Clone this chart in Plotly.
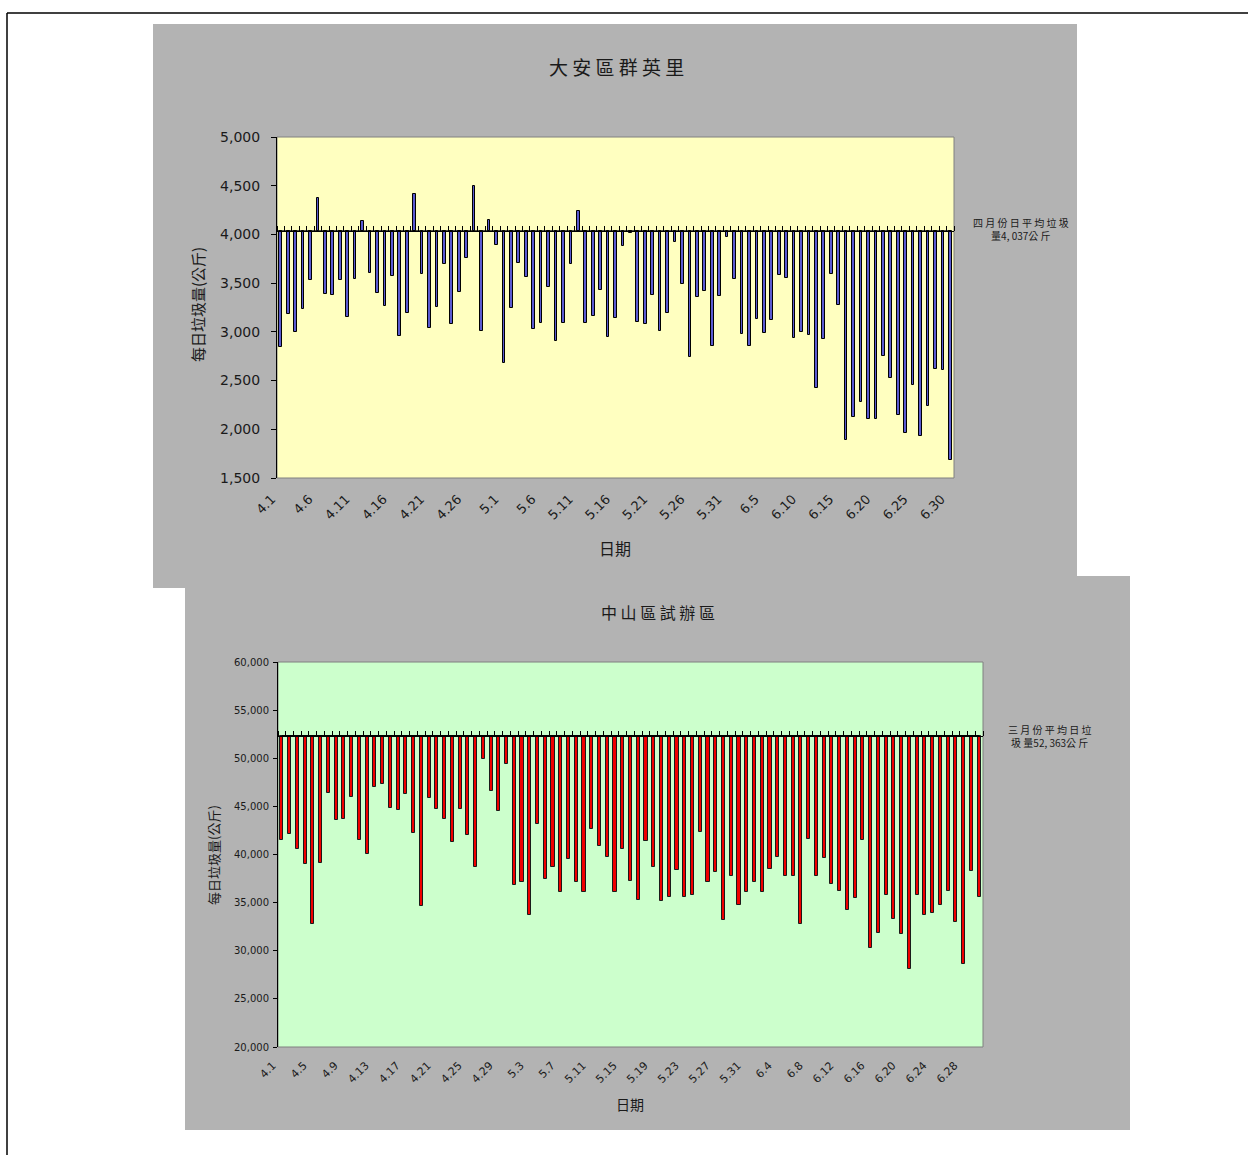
import plotly.graph_objects as go

W, H = 1248, 1155

# ---------------- data ----------------
month_lengths = [(4, 30), (5, 31), (6, 30)]
dates = [f"{m}.{d}" for m, n in month_lengths for d in range(1, n + 1)]

daan_avg = 4037
daan_values = [
    2842, 3182, 3000, 3236, 3532, 4372, 3390, 3378, 3532, 3154,
    3543, 4137, 3604, 3397, 3267, 3575, 2957, 3195, 4411, 3592,
    3040, 3255, 3697, 3080, 3410, 3760, 4495, 3008, 4145, 3892,
    2678, 3246, 3707, 3563, 3029, 3092, 3460, 2908, 3092, 3697,
    4238, 3092, 3162, 3433, 2949, 3142, 3882, 4016, 3101, 3082,
    3378, 3007, 3195, 3925, 3491, 2740, 3361, 3419, 2853, 3371,
    3976, 3543, 2976, 2853, 3134, 2990, 3120, 3582, 3551, 2935,
    3000, 2966, 2421, 2925, 3592, 3277, 1894, 2130, 2277, 2103,
    2103, 2750, 2524, 2144, 1966, 2452, 1928, 2236, 2616, 2606,
    1688,
]
daan_ticks = ["4.1", "4.6", "4.11", "4.16", "4.21", "4.26", "5.1", "5.6", "5.11",
              "5.16", "5.21", "5.26", "5.31", "6.5", "6.10", "6.15", "6.20", "6.25", "6.30"]

zs_avg = 52363
zs_values = [
    41493, 42118, 40556, 39028, 32743, 39097, 46354, 43576, 43681, 46007,
    41528, 40104, 47049, 47292, 44792, 44618, 46285, 42188, 34618, 45833,
    44688, 43681, 41300, 44757, 42049, 38750, 49970, 46597, 44549, 49375,
    36840, 37118, 33750, 43125, 37465, 38681, 36146, 39549, 37188, 36076,
    42639, 40833, 39722, 36146, 40521, 37257, 35313, 41424, 38681, 35139,
    35556, 38403, 35556, 35799, 42361, 37188, 38229, 33229, 37813, 34722,
    36076, 37188, 36146, 38507, 39722, 37743, 37813, 32743, 41632, 37743,
    39653, 36944, 36181, 34271, 35486, 41528, 30313, 31875, 35833, 33333,
    31701, 28056, 35764, 33750, 33924, 34722, 36250, 32986, 28646, 38264,
    35556,
]
zs_ticks = ["4.1", "4.5", "4.9", "4.13", "4.17", "4.21", "4.25", "4.29", "5.3", "5.7",
            "5.11", "5.15", "5.19", "5.23", "5.27", "5.31", "6.4", "6.8", "6.12",
            "6.16", "6.20", "6.24", "6.28"]

title_top = "大 安 區 群 英 里"
title_bot = "中 山 區 試 辦 區"
ytitle = "每日垃圾量(公斤)"
xtitle = "日期"
note_top = "四 月 份 日 平 均 垃 圾<br>量4, 037公 斤"
note_bot = "三 月 份 平 均 日 垃<br>圾 量52, 363公 斤"

# ---------------- layout helpers ----------------
def px(x):
    return x / W

def py(y):
    return 1 - y / H

top_dom_x = [px(277), px(954)]
top_dom_y = [py(478), py(137)]
bot_dom_x = [px(278), px(983)]
bot_dom_y = [py(1047), py(662)]

top_range = [1500, 5000]
bot_range = [20000, 60000]

def base_pos(dom, rng, v):
    return dom[0] + (v - rng[0]) / (rng[1] - rng[0]) * (dom[1] - dom[0])

n = len(dates)
idx = list(range(n))
boundaries = [i - 0.5 for i in range(n + 1)]

CJK = "Noto Sans CJK TC"
TXT = "#1a1a1a"

fig = go.Figure()
fig.add_trace(go.Bar(
    x=dates, y=[v - daan_avg for v in daan_values], base=daan_avg,
    width=0.36, xaxis="x", yaxis="y",
    marker=dict(color="#5a5ad0", line=dict(color="#000000", width=1)),
    customdata=daan_values, hovertemplate="%{x}: %{customdata}<extra></extra>",
))
# average reference line (on the baseline axis that carries the tick marks)
fig.add_trace(go.Scatter(
    x=idx, y=[daan_avg] * n, xaxis="x3", yaxis="y", mode="lines",
    line=dict(color="#000", width=1), hoverinfo="skip",
))
fig.add_trace(go.Bar(
    x=dates, y=[v - zs_avg for v in zs_values], base=zs_avg,
    width=0.4, xaxis="x2", yaxis="y2",
    marker=dict(color="#f00000", line=dict(color="#1a1a1a", width=1)),
    customdata=zs_values, hovertemplate="%{x}: %{customdata}<extra></extra>",
))
fig.add_trace(go.Scatter(
    x=idx, y=[zs_avg] * n, xaxis="x4", yaxis="y2", mode="lines",
    line=dict(color="#000", width=1), hoverinfo="skip",
))

common_x = dict(type="category", range=[-0.5, n - 0.5], tickmode="array",
                tickangle=-45, ticks="", showline=False, showgrid=False,
                zeroline=False, automargin=False)
common_y = dict(ticks="outside", ticklen=5, tickcolor="#000", showline=True,
                linecolor="#000", linewidth=1, showgrid=False, zeroline=False,
                tickformat=",d", automargin=False)
overlay = dict(type="linear", range=[-0.5, n - 0.5], anchor="free", side="top",
               tickmode="array", tickvals=boundaries, ticks="outside",
               tickcolor="#000", tickwidth=1, showticklabels=False, showline=True,
               linecolor="#000", linewidth=1, showgrid=False, zeroline=False,
               automargin=False)

fig.update_layout(
    template="none",
    width=W, height=H, margin=dict(l=0, r=0, t=0, b=0, pad=0),
    paper_bgcolor="white", plot_bgcolor="rgba(0,0,0,0)", showlegend=False,
    bargap=0, hovermode="closest",
    xaxis=dict(common_x, domain=top_dom_x, anchor="y", tickvals=daan_ticks,
               ticktext=daan_ticks, ticklabelshift=-9, ticklabelstandoff=10,
               tickfont=dict(family="DejaVu Sans", size=13, color=TXT)),
    yaxis=dict(common_y, domain=top_dom_y, anchor="x", range=top_range, dtick=500,
               ticklabelstandoff=8,
               tickfont=dict(family="DejaVu Sans", size=14, color=TXT)),
    xaxis2=dict(common_x, domain=bot_dom_x, anchor="y2", tickvals=zs_ticks,
                ticktext=zs_ticks, ticklabelshift=-9, ticklabelstandoff=9,
                tickfont=dict(family="DejaVu Sans", size=11, color=TXT)),
    yaxis2=dict(common_y, domain=bot_dom_y, anchor="x2", range=bot_range, dtick=5000,
                ticklen=4, ticklabelstandoff=2,
                tickfont=dict(family="DejaVu Sans", size=10, color=TXT)),
    xaxis3=dict(overlay, overlaying="x", ticklen=5,
                position=base_pos(top_dom_y, top_range, daan_avg)),
    xaxis4=dict(overlay, overlaying="x2", ticklen=5,
                position=base_pos(bot_dom_y, bot_range, zs_avg)),
)

shapes = [
    # page frame
    dict(type="line", xref="paper", yref="paper", x0=px(7), x1=px(7), y0=py(13), y1=0,
         line=dict(color="#000", width=1.5)),
    dict(type="line", xref="paper", yref="paper", x0=px(7), x1=1, y0=py(13), y1=py(13),
         line=dict(color="#000", width=1.5)),
    # grey chart panels
    dict(type="rect", xref="paper", yref="paper", x0=px(153), x1=px(1077), y0=py(588), y1=py(24),
         fillcolor="#b3b3b3", line=dict(width=0), layer="below"),
    dict(type="rect", xref="paper", yref="paper", x0=px(185), x1=px(1130), y0=py(1130), y1=py(576),
         fillcolor="#b3b3b3", line=dict(width=0), layer="below"),
    # plot area backgrounds
    dict(type="rect", xref="x domain", yref="y domain", x0=0, x1=1, y0=0, y1=1,
         fillcolor="#ffffc0", line=dict(color="#808080", width=1), layer="below"),
    dict(type="rect", xref="x2 domain", yref="y2 domain", x0=0, x1=1, y0=0, y1=1,
         fillcolor="#ccffcc", line=dict(color="#808080", width=1), layer="below"),
]
fig.update_layout(shapes=shapes)

def ann(text, x, y, size, angle=0, align="center"):
    return dict(text=text, x=px(x), y=py(y), xref="paper", yref="paper",
                showarrow=False, textangle=angle, align=align,
                xanchor="center", yanchor="middle",
                font=dict(family=CJK, size=size, color=TXT))

fig.update_layout(annotations=[
    ann(title_top, 616, 66, 19),
    ann(xtitle, 615, 548, 16),
    ann(ytitle, 197, 305, 15, angle=-90),
    ann(note_top, 1021, 229, 10),
    ann(title_bot, 658, 612, 16),
    ann(xtitle, 630, 1104, 14),
    ann(ytitle, 213, 855, 13, angle=-90),
    ann(note_bot, 1049, 736, 10),
])

fig.write_html("out.html", config={"displayModeBar": False},
               post_script="document.body.style.margin='0';document.body.style.overflow='hidden';")
